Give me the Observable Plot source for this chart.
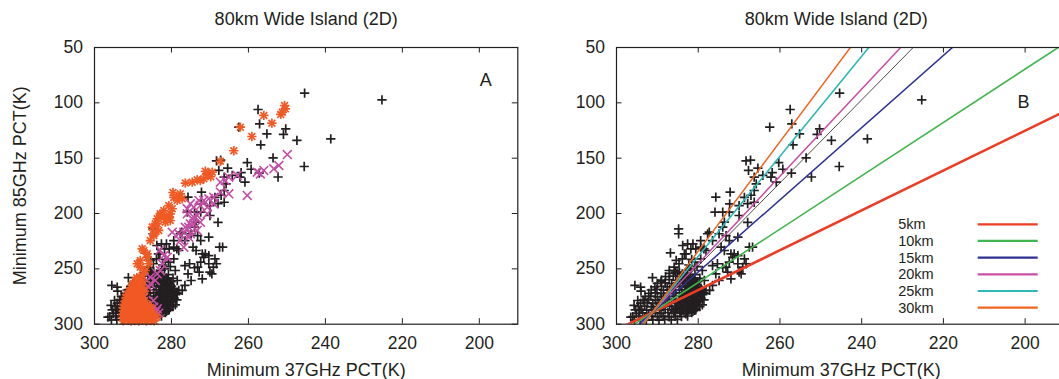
<!DOCTYPE html>
<html><head><meta charset="utf-8">
<script src="https://cdn.jsdelivr.net/npm/d3@7"></script>
<script src="https://cdn.jsdelivr.net/npm/@observablehq/plot@0.6"></script>
<style>
html,body{margin:0;padding:0;background:#fff;overflow:hidden;width:1059px;height:379px;}
#wrap{position:relative;width:1059px;height:379px;overflow:hidden;}
#a{position:absolute;left:0;top:0;width:530px;}
#b{position:absolute;left:530px;top:0;width:540px;}
</style></head><body><div id="wrap"><div id="a"></div><div id="b"></div></div>
<script>
const title = "80km Wide Island (2D)";
const xLabel = "Minimum 37GHz PCT(K)";
const yLabel = "Minimum 85GHz PCT(K)";
const xTicks = [300, 280, 260, 240, 220, 200];
const yTicks = [50, 100, 150, 200, 250, 300];
const xDomain = [300, 190];
const yDomain = [300, 50];

// black "+" points (shown in both panels)
const blackPts = [
[245.4,91.3],[225.3,97.3],[257.5,106],[257.1,119],[255.2,128],[250.3,123.5],[250.9,128.5],[247.4,134],[238.6,132.5],[256.8,138],[253.6,149.7],[245.5,157.5],[252.3,167],[262.5,122],
[260.3,154],[259.3,160],[257.2,163.5],[261.9,163],[262.2,167.2],[260.9,171.7],
[268.3,152.5],[267.2,151.8],[267.7,161],[265.4,159],[264.2,165.6],[266.3,167.2],[265.8,173.2],[266.3,179.2],[267.1,183.5],[268.7,185.5],[266.3,189.8],[267.9,191],[270,192.8],[272.2,180.7],[272.3,191.2],[275.7,185.2],[275.9,198.8],[274,198.8],[272.4,198.8],[267.9,208],[270,201.8],[273.6,207.8],[274,212.3],[274.9,218.3],[277.3,216.9],[273.2,219.9],[272.4,224.4],[270.3,221.4],[274.4,230.4],[278.1,233.4],[276.5,224.4],[266.7,230.4],[270.3,238],[271.6,239.5],[268.7,241],[268.3,245.4],[269.1,248.5],[272.4,244],[273.2,248.5],[270,253],[276.5,247],[279.4,241],[279.4,230.4],[279,251.5],[275.7,254.5],
[273.6,233.4],[272,236.4],[275.3,245.4],[274,249],[272.8,253],[272,259],[274.9,260.5],[276.5,265],[278.1,269.5],[278.5,272.5],[269.5,254.5],[270.3,245.4],[267.5,230.4],[271.2,236.4],
[277.7,218.3],[279.4,224.4],[280.6,231.9],[278.6,231.9],
[282.6,227.4],[281.8,231.9],[283,236.4],[283.9,241],[284.7,245.4],[285.9,248.5],
[287.1,251.5],[285.5,253],[283.9,254.5],[282.6,251.5],
[284.8,213.8],[284.8,218.3],[281.3,227.4],[283.8,228.9],[286.8,235.5],[285.4,242.4],[283.4,236.4],[285.8,251.5],[284.6,253],[291.2,258],[289.1,261.5],[295.5,265],[294,270.2],[294.8,278.6],[294.4,287.6],[295.7,283],[296.5,293.6],[293.2,278.6],[280.1,272.5],[278.5,260.5],[280.9,287.6],[283,290.6],[277.2,269.5],[294.1,266.5],
[295.6,296.2],[294.2,295.8],[292.7,296.4],[291.1,295.9],[289.6,296.3],[288.2,295.7],[286.6,296.1],[285.1,295.6],
[296,293.1],[294.5,292.6],[293.1,293.4],[291.4,292.8],[290,293.2],[288.6,292.7],[287.1,293.3],[285.6,292.9],[284.1,293.2],[282.6,292.6],
[295.1,290.2],[293.6,289.7],[292.1,290.4],[290.5,289.8],[289.1,290.3],[287.4,289.6],[286,290.2],[284.5,289.8],[283.1,290.1],[281.6,289.5],
[295.4,287.1],[294,286.6],[292.6,287.3],[291,286.8],[289.5,287.2],[288.1,286.7],[286.5,287.1],[285,286.6],[283.6,287.3],[282.1,286.8],[280.6,287],
[294.6,284.2],[293.1,283.7],[291.5,284.3],[290.1,283.8],[288.5,284.1],[287,283.6],[285.6,284.3],[284.1,283.8],[282.5,284.2],[281,283.7],[279.6,284.1],
[294.1,281],[292.5,280.6],[291.1,281.3],[289.6,280.8],[288,281.2],[286.5,280.7],[285.1,281.1],[283.5,280.6],[282,281.3],[280.5,280.8],
[293.5,278.2],[292.1,277.7],[290.5,278.3],[289,277.8],[287.6,278.1],[286,277.6],[284.5,278.3],[283.1,277.9],[281.5,278.2],[280,277.7],[278.6,278.1],
[293,275.1],[291.6,274.6],[290,275.3],[288.5,274.8],[287.1,275.2],[285.5,274.7],[284,275.1],[282.6,274.6],[281,275.3],[279.5,274.8],
[292.1,272.2],[290.5,271.7],[289.1,272.3],[287.5,271.8],[286,272.1],[284.6,271.6],[283,272.3],[281.5,271.8],[280.1,272.2],[278.6,271.7],
[291.5,269.1],[290.1,268.6],[288.5,269.3],[287,268.8],[285.6,269.2],[284,268.7],[282.5,269.1],[281.1,268.6],[279.5,269.2],
[290.6,266.2],[289,265.7],[287.6,266.3],[286,265.8],[284.5,266.1],[283.1,265.6],[281.5,266.2],[280,265.8],
[290,263.1],[288.1,262.6],[286.5,263.3],[285.1,262.8],[283.5,263.2],[282,262.7],[280.6,263.1],
[289,260.2],[287.1,259.7],[285.5,260.3],[284.1,259.8],[282.5,260.1],[281,259.6],
[288,257.1],[286.1,256.6],[284,257.2],[282.6,256.8],
[287,254.1],[285.1,253.7],[283.1,254.2],
[285.8,288.4],[284.3,288.6],[282.8,288.2],[281.3,288.5],[285.3,285.6],[283.8,285.3],[282.3,285.7],[280.8,285.4],
[284.8,282.6],[283.3,282.3],[281.8,282.7],[280.3,282.4],[279,282.6],[284.3,279.5],[282.8,279.2],[281.3,279.6],[279.8,279.3],
[283.8,276.6],[282.3,276.3],[280.8,276.7],[279.3,276.4],[283.3,273.5],[281.8,273.2],[280.3,273.6],[278.9,273.3],
[282.8,270.5],[281.3,270.2],[279.8,270.6],[282.3,267.5],[280.8,267.2],[279.3,267.6],[281.8,264.5],[280.3,264.2],
[283.8,261.4],[281.8,261.2],[280.1,261.6],[283.3,258.4],[281.3,258.1],[279.6,258.5],[282.8,255.5],[280.8,255.2],
[281.8,250],[280.3,248],[282.3,246.5],[280.8,244],[281.6,241.5]
];

// magenta "x" points (panel A)
const magentaPts = [
[249.9,146.7],[252.1,156.6],[253.4,159.6],[256,161.1],[257.7,162.7],[256.9,164.3],[260.3,183.7],[262.9,165.6],[265.1,167.2],[266,170.2],[267.3,171.7],
[265.1,182.2],[267.3,180.7],[269,185.3],[270.3,186.7],[271.6,188.2],[272.9,188.2],[269,191.2],[270.7,194.3],[272.5,192.8],[274.2,194.3],[275.1,191.2],[275.9,195.7],
[270.7,200.3],[273.3,201.8],[274.6,204.8],[272.5,207.8],[274.2,209.3],[275.5,212.4],[273.3,215.3],[275.1,218.3],[276.8,216.9],[278.1,218.3],[275.9,200.3],[274.2,203.3],[275.1,209.3],[276.4,212.4],[275.5,221.4],[277.7,224.4],[276.8,230.4],[279.8,216.9],
[283,233],[282,238],[281.1,239.5],[282.4,245.4],[282.9,251.5],[283.7,254.5],[284.2,260.5],[285.5,263.5],[285.9,266.6],[285.5,257.5],[287.2,275.6],[288.1,278.6],[284.7,278.6],[284.6,284.6],[283.7,286.1],[284,288.5],[283.3,290]
];

// orange "*" points (panel A)
const orangePts = [
[250.6,102.4],[250.4,105.4],[251.2,108.5],[251.6,110.5],[256,111.4],[253.9,118.4],[262.1,122],[259.1,130.4],[263.8,143.3],[267.3,152.8],
[269.4,162.7],[270.7,165.6],[271.6,168.6],[270.3,164.2],[272.5,170.2],[269.8,166.8],[271.2,161.8],[274.6,171.7],[273.3,169.5],
[277.7,182.2],[278.1,185.3],[277.2,186.7],[278.5,188.2],[276.4,172.5],[279.6,181],[279.4,185.5],
[280.7,192.8],[282,197.3],[280.3,200.3],[282.9,201.8],[279.8,195.7],[282,203.3],[280.7,203.3],[281.6,207.8],[283.7,204.8],[282.9,200.3],[281.1,203.3],[280.3,206.3],[284.2,209.3],
[283.7,209.3],[285,212.3],[283.3,215.3],[284.6,219.9],[284.6,218.3],[285.5,224.4],
[287.6,231.9],[286.3,236.4],[288.1,242.4],[287.2,233.4],[286.3,239.5],[285.9,245.4],[288.9,245.4],[288.1,248.5],[286.8,251.5],[287.6,256],[288.9,259],[289.8,263.5],
[292.5,297],[291.5,296.6],[290.5,297.2],[289.5,296.7],[288.5,297.1],[287.5,296.6],[286.5,297.2],[285.5,296.8],[284.5,297],
[292.6,294],[291.6,293.6],[290.5,294.2],[289.5,293.7],[288.6,294.1],[287.5,293.6],[286.5,294.2],[285.6,293.8],[284.6,294.1],[283.8,293.7],
[292.6,291.1],[291.6,290.6],[290.6,291.2],[289.6,290.7],[288.6,291.1],[287.6,290.6],[286.6,291.2],[285.6,290.8],[284.6,291],
[292.5,288],[291.5,287.6],[290.5,288.2],[289.5,287.7],[288.5,288.1],[287.5,287.6],[286.5,288.2],[285.5,287.8],
[292.4,285.1],[291.4,284.6],[290.4,285.2],[289.4,284.7],[288.4,285.1],[287.4,284.6],[286.4,285.2],[285.4,284.8],
[292.3,282],[291.3,281.6],[290.3,282.2],[289.3,281.7],[288.3,282.1],[287.3,281.6],[286.3,282.1],
[292,279.1],[291,278.6],[290,279.2],[289,278.7],[288,279.1],[287,278.6],
[291.8,276],[290.8,275.6],[289.8,276.2],[288.8,275.7],[287.8,276.1],
[291.5,273.1],[290.5,272.6],[289.5,273.2],[288.5,272.7],[287.5,273.1],
[291,270],[290,269.6],[289,270.2],[288,269.7],[287,270.1],
[290.5,267.1],[289.5,266.6],[288.5,267.2],[287.5,266.7],
[290,264],[289,263.6],[288,264.2],
[289.5,261.1],[288.5,260.6],[287.5,261.2],
[289,258],[288,257.6]
];

// panel B fitted lines
const kmLabels = ["5km", "10km", "15km", "20km", "25km", "30km"];
const kmSlopes = [1.80, 2.41, 3.26, 3.94, 4.52, 4.94];
const kmColors = ["#ee3b24", "#41b64e", "#2e3192", "#c94ea5", "#2bb9b6", "#f26522"];
const kmWidths = [2.6, 1.6, 1.5, 1.5, 1.6, 1.5];
const fitSlope = 3.75;
const pivot = [291.2, 289.3];

const ink = "#231f20";
const fontFamily = "'Liberation Sans', Arial, Helvetica, sans-serif";
const H = 379, MT = 47, MB = 55.3;
const frameH = H - MT - MB;

const lineData = s => xDomain.map(x => ({x, y: pivot[1] + s * (x - pivot[0])}));

function commonMarks(fw) {
  return [
    Plot.frame({stroke: ink, strokeWidth: 1.2}),
    Plot.tickX(xTicks, {x: d => d, insetTop: frameH - 5.5, stroke: ink, strokeWidth: 1}),
    Plot.tickX(xTicks, {x: d => d, insetBottom: frameH - 5.5, stroke: ink, strokeWidth: 1}),
    Plot.tickY(yTicks, {y: d => d, insetRight: fw - 5.5, stroke: ink, strokeWidth: 1}),
    Plot.tickY(yTicks, {y: d => d, insetLeft: fw - 5.5, stroke: ink, strokeWidth: 1}),
    Plot.axisX(xTicks, {tickSize: 0, tickPadding: 12.5, fontSize: 17.5, label: null, tickFormat: d => String(d)}),
    Plot.axisY(yTicks, {tickSize: 0, tickPadding: 11.5, fontSize: 17.5, label: null, tickFormat: d => String(d)}),
    Plot.text([xLabel], {text: d => d, frameAnchor: "bottom", dy: 46.5, fontSize: 18, lineAnchor: "middle", fill: ink})
  ];
}

const plusR = 3.1, plusW = 1.7;

// Panel A
const wA = 530, mlA = 94, mrA = 12.7;
const fwA = wA - mlA - mrA;
const plotA = Plot.plot({
  width: wA, height: H, marginLeft: mlA, marginRight: mrA, marginTop: MT, marginBottom: MB,
  style: {fontFamily, color: ink, background: "#fff", maxWidth: "none"},
  x: {domain: xDomain, label: null},
  y: {domain: yDomain, label: null},
  marks: [
    Plot.dot(blackPts, {x: d => d[0], y: d => d[1], symbol: "plus", r: plusR, stroke: ink, strokeWidth: plusW}),
    Plot.dot(magentaPts, {x: d => d[0], y: d => d[1], symbol: "times", r: 4.1, stroke: "#c24fa3", strokeWidth: 1.6}),
    Plot.dot(orangePts, {x: d => d[0], y: d => d[1], symbol: "plus", r: 3.1, stroke: "#f15a24", strokeWidth: 1.7}),
    Plot.dot(orangePts, {x: d => d[0], y: d => d[1], symbol: "times", r: 3.2, stroke: "#f15a24", strokeWidth: 1.7}),
    ...commonMarks(fwA),
    Plot.text([yLabel], {text: d => d, frameAnchor: "left", dx: -74, rotate: -90, fontSize: 18, textAnchor: "middle", lineAnchor: "middle", fill: ink}),
    Plot.text([title], {text: d => d, frameAnchor: "top", dy: -28, fontSize: 18, lineAnchor: "middle", fill: ink}),
    Plot.text(["A"], {text: d => d, frameAnchor: "top-right", dx: -32, dy: 33, fontSize: 18, textAnchor: "middle", lineAnchor: "middle", fill: ink})
  ]
});
document.getElementById("a").append(plotA);

// Panel B
const wB = 540, mlB = 86, mrB = 4.5;
const fwB = wB - mlB - mrB;
const plotB = Plot.plot({
  width: wB, height: H, marginLeft: mlB, marginRight: mrB, marginTop: MT, marginBottom: MB,
  style: {fontFamily, color: ink, background: "#fff", maxWidth: "none"},
  x: {domain: xDomain, label: null},
  y: {domain: yDomain, label: null},
  marks: [
    Plot.dot(blackPts, {x: d => d[0], y: d => d[1], symbol: "plus", r: plusR, stroke: ink, strokeWidth: plusW}),
    Plot.line(lineData(fitSlope), {x: "x", y: "y", stroke: ink, strokeWidth: 0.8, clip: true}),
    ...kmSlopes.map((s, i) => Plot.line(lineData(s), {x: "x", y: "y", stroke: kmColors[i], strokeWidth: kmWidths[i], clip: true})),
    ...commonMarks(fwB),
    Plot.text([title], {text: d => d, frameAnchor: "top", dy: -28, dx: -5, fontSize: 18, lineAnchor: "middle", fill: ink}),
    Plot.text(["B"], {text: d => d, frameAnchor: "top-right", dx: -42.5, dy: 55, fontSize: 18, textAnchor: "middle", lineAnchor: "middle", fill: ink}),
    ...kmLabels.map((lab, i) => Plot.text([lab], {text: d => d, frameAnchor: "top-left", dx: 281.7, dy: 177.3 + i * 16.67, fontSize: 14.5, textAnchor: "start", lineAnchor: "middle", fill: ink}))
  ]
});
// legend line samples
const lg = d3.select(plotB).append("g");
kmLabels.forEach((lab, i) => {
  const yy = MT + 177.3 + i * 16.67;
  lg.append("line").attr("x1", mlB + 361.7).attr("x2", mlB + 421.7).attr("y1", yy).attr("y2", yy)
    .attr("stroke", kmColors[i]).attr("stroke-width", 2.2);
});
document.getElementById("b").append(plotB);
</script></body></html>
